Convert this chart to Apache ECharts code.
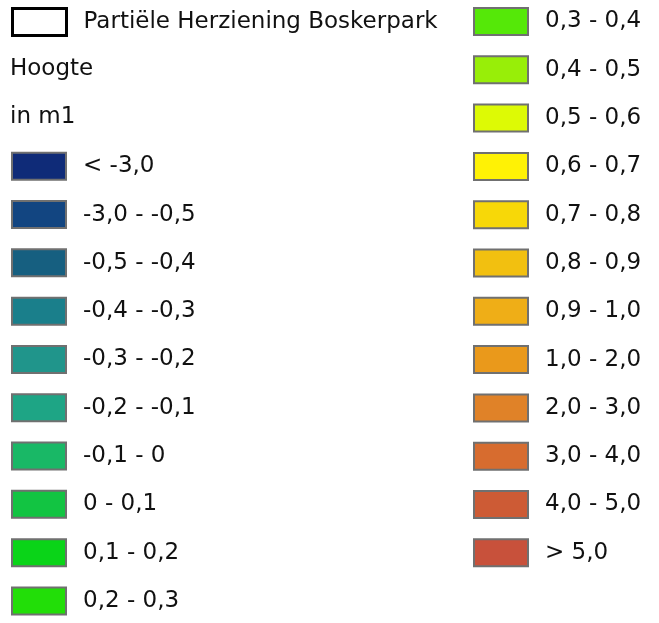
<!DOCTYPE html>
<html>
<head>
<meta charset="utf-8">
<script src="https://cdn.jsdelivr.net/npm/echarts@6/dist/echarts.min.js"></script>
<style>
  html, body { margin: 0; padding: 0; background: #fff; }
  #chart { width: 659px; height: 623px; }
</style>
</head>
<body>
<div id="chart"></div>
<script>
// legend classes, height in m1
var boundaryName = 'Partiële Herziening Boskerpark';
var titleLines = ['Hoogte', 'in m1'];
var leftClasses = ['< -3,0', '-3,0 - -0,5', '-0,5 - -0,4', '-0,4 - -0,3', '-0,3 - -0,2',
  '-0,2 - -0,1', '-0,1 - 0', '0 - 0,1', '0,1 - 0,2', '0,2 - 0,3'];
var leftColors = ['#0f2b78', '#124581', '#165f80', '#1a7f8b', '#20958b',
  '#1ea585', '#19b866', '#12c442', '#0ad418', '#22de08'];
var rightClasses = ['0,3 - 0,4', '0,4 - 0,5', '0,5 - 0,6', '0,6 - 0,7', '0,7 - 0,8', '0,8 - 0,9',
  '0,9 - 1,0', '1,0 - 2,0', '2,0 - 3,0', '3,0 - 4,0', '4,0 - 5,0', '> 5,0'];
var rightColors = ['#55e808', '#98ee08', '#ddfa05', '#fff205', '#f7d808', '#f2c010',
  '#efae17', '#ea991b', '#e08228', '#d76c2f', '#cd5b35', '#c8513b'];

var FONT = 'DejaVu Sans';
var ROW = 48.25;
var IW = 54, IH = 27;
// the legend text box is ~2px taller than the icon
var TEXT_EXTRA = 1.95;

var chartDom = document.getElementById('chart');
var myChart = echarts.init(chartDom);

var allNames = leftClasses.concat(rightClasses);
var allColors = leftColors.concat(rightColors);

var series = [{ name: boundaryName, type: 'bar', data: [], itemStyle: { color: '#fff' } }];
allNames.forEach(function (n, i) {
  series.push({ name: n, type: 'bar', data: [], itemStyle: { color: allColors[i] } });
});

const legendItem = (name, color) => {
  return { name: name, icon: 'rect',
    itemStyle: { color: color, borderColor: '#707070', borderWidth: 2 } };
};

const baseLegend = {
  orient: 'vertical',
  padding: 0,
  height: 610,
  itemWidth: IW,
  itemHeight: IH,
  itemGap: ROW - IH - TEXT_EXTRA,
  selectedMode: false,
  textStyle: { fontFamily: FONT, fontSize: 23, lineHeight: IH, color: '#111', padding: [0, 0, 0, 12] }
};

var option = {
  animation: false,
  backgroundColor: '#fff',
  grid: { show: false, left: 0, top: 0, width: 1, height: 1 },
  xAxis: { type: 'category', show: false, data: [] },
  yAxis: { type: 'value', show: false },
  legend: [
    Object.assign({}, baseLegend, {
      left: 11, top: 7,
      data: [{ name: boundaryName, icon: 'rect',
        itemStyle: { color: '#fff', borderColor: '#000', borderWidth: 3 } }]
    }),
    Object.assign({}, baseLegend, {
      left: 11, top: 7 + 3 * ROW,
      data: leftClasses.map(function (n, i) { return legendItem(n, leftColors[i]); })
    }),
    Object.assign({}, baseLegend, {
      left: 473, top: 7,
      data: rightClasses.map(function (n, i) { return legendItem(n, rightColors[i]); })
    })
  ],
  graphic: titleLines.map(function (t, i) {
    return {
      type: 'text', left: 10, top: 8 + (i + 1) * ROW + IH / 2 - 12,
      style: { text: t, fontFamily: FONT, fontSize: 23, fill: '#111' }
    };
  }),
  series: series
};

myChart.setOption(option);
</script>
</body>
</html>
